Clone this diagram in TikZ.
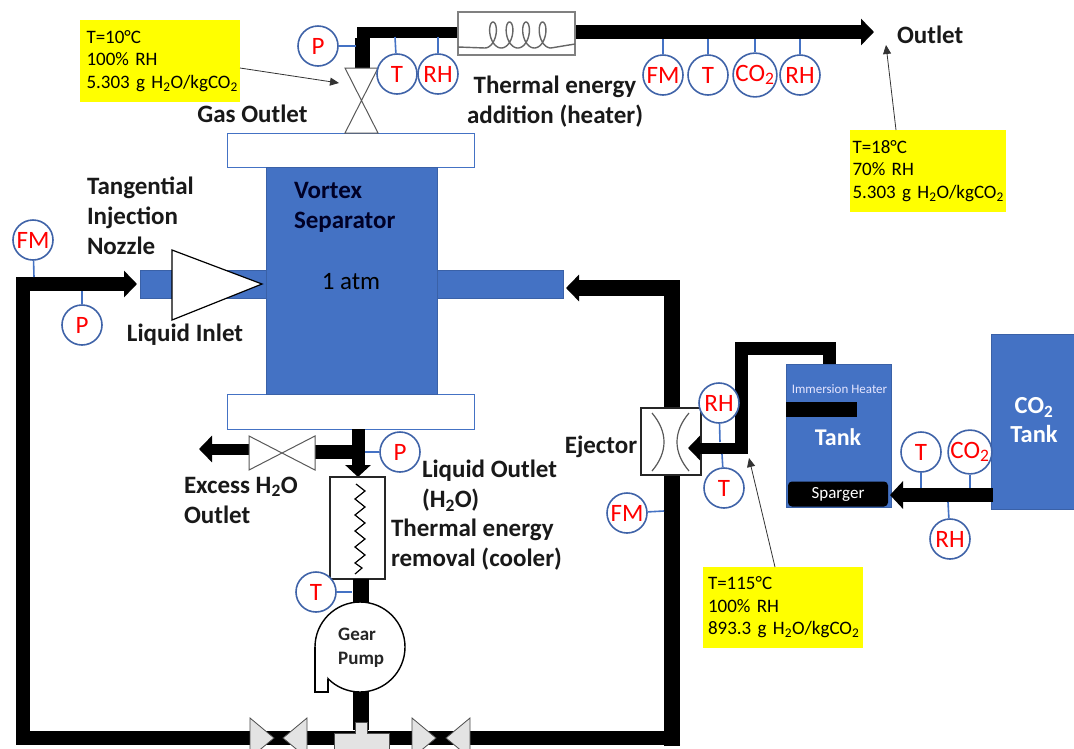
\documentclass[tikz,border=0pt]{standalone}
\usepackage{fontspec}
\setmainfont{Carlito}
\usetikzlibrary{arrows.meta}
\definecolor{pblue}{HTML}{4472C4}
\definecolor{ringblue}{HTML}{3F63A8}
\definecolor{noteyellow}{HTML}{FFFF00}
\definecolor{valvegray}{HTML}{E3E3E3}
\newcommand{\sub}[1]{\textsubscript{#1}}
\tikzset{
  x=1pt,y=-1pt,
  pipe/.style={line width=#1,draw=black,line join=miter},
  pipe/.default=14pt,
  harrow/.style={-{Triangle[length=13pt,width=26pt]}},
  vessel/.style={fill=pblue,draw=pblue!85!black,line width=.8pt,inner sep=0pt,outer sep=0pt},
  flange/.style={fill=white,draw=pblue,line width=1pt,inner sep=0pt,outer sep=0pt},
  wbox/.style={fill=white,draw=black!85,line width=1.2pt,inner sep=0pt,outer sep=0pt},
  gauge/.style={circle,draw=ringblue,fill=white,line width=1.6pt,minimum size=40pt,inner sep=0pt,text=red,font=\fontsize{25}{27}\selectfont},
  stub/.style={draw=pblue,line width=1.6pt},
  note/.style={fill=noteyellow,inner sep=0pt,outer sep=0pt,anchor=north west,text width=#1,align=left,font=\fontsize{19}{22.5}\selectfont},
  lbl/.style={inner sep=0pt,outer sep=0pt,font=\fontsize{25}{30}\bfseries\selectfont,text=black!90},
  valveline/.style={draw=black!65,line width=1pt,fill=white},
  gray part/.style={fill=valvegray,draw=black!70,line width=.8pt},
  thin arrow/.style={draw=black!80,line width=.8pt,-{Triangle[length=9pt,width=8pt]}}
}
\begin{document}
\begin{tikzpicture}
\useasboundingbox (0,0) rectangle (1074,748);
\clip (0,0) rectangle (1074,748);
\fill[white] (0,0) rectangle (1074,748);

% anchor coordinates for pipe runs
\coordinate (gasA) at (362,68);
\coordinate (gasB) at (362,32);
\coordinate (hL) at (458,32);
\coordinate (hR) at (575,32);
\coordinate (outEnd) at (874,32);
\coordinate (loopTR) at (672,288);
\coordinate (loopArrow) at (566,288);
\coordinate (loopBR) at (680,738);
\coordinate (loopBL) at (23,738);
\coordinate (loopTL) at (23,284);
\coordinate (loopArrow2) at (137,284);
\coordinate (tankTop) at (829,365);
\coordinate (tankC) at (829,348);
\coordinate (tankL) at (741,348);
\coordinate (tankD) at (741,448);
\coordinate (ejIn) at (688,448);

% vessels
\node[flange,minimum width=247pt,minimum height=34pt] (topfl) at (350.5,150) {};
\node[flange,minimum width=247pt,minimum height=35pt] (botfl) at (350.5,411.5) {};
\node[vessel,minimum width=126pt,minimum height=28pt] (stubL) at (203,284) {};
\node[vessel,minimum width=126pt,minimum height=28pt] (stubR) at (500,284) {};
\node[vessel,minimum width=171pt,minimum height=227pt] (vortex) at (351.5,280.5) {};
\node[lbl,anchor=west,align=left,text=black!85!blue] (vlabel) at (294,207) {Vortex\\Separator};
\node[inner sep=0pt,font=\fontsize{25}{28}\selectfont] (atm) at (351,282) {1 atm};

% nozzle
\draw[fill=white,draw=black,line width=1.2pt] (172,250) -- (172,320) -- (262,284) -- cycle;

% main loop
\draw[pipe=16pt,harrow] (672,746) -- (loopTR) -- (loopArrow);
\draw[pipe=14pt] (loopBR) -- (loopBL) -- (loopTL);
\draw[pipe=14pt,harrow,shorten <=-7pt] (loopTL) -- (loopArrow2);

% gas outlet pipes
\draw[pipe=11pt] (hL) -- (gasB) -| (gasA);
\draw[line width=15pt,draw=black] (362,68) -- (362,38);
\draw[pipe=14pt,harrow] (hR) -- (outEnd);

% heater
\node[wbox,draw=black!50,minimum width=117pt,minimum height=43pt] (heater) at (516.5,33.5) {};
\draw[black!60,line width=1.4pt] (458,47) -- (485,48)
  plot[domain=-180:1260,samples=150,smooth] ({493+2.63*rad(\x)-7*sin(\x)},{35-13*cos(\x)})
  -- (575,44);

% top valve
\draw[valveline] (345,68) -- (378,68) -- (345,133) -- (378,133) -- cycle;

% liquid outlet
\draw[pipe=13pt] (358,429) -- (358,452);
\draw[pipe=14pt] (358,452) -- (315,452);
\draw[pipe=11pt,harrow] (249,449) -- (199,449);
\draw[pipe=13pt,-{Triangle[length=12pt,width=25pt]}] (358,440) -- (358,477);
\draw[valveline] (249,436) -- (315,470) -- (315,436) -- (249,470) -- cycle;

% cooler
\node[wbox,minimum width=55pt,minimum height=102pt] (cooler) at (357.5,528) {};
\draw[black,line width=1.2pt] (356,484) -- (365,491) -- (355,499) -- (365,507) -- (355,515) -- (365,523) -- (355,531) -- (365,539) -- (355,547) -- (365,555) -- (355,563) -- (362,568) -- (355,574);

% pump
\draw[pipe=16pt] (361,579) -- (361,606);
\draw[pipe=16pt] (361,688) -- (361,730);
\node[circle,fill=white,draw=black,line width=1.4pt,minimum size=90pt,inner sep=0pt] (pump) at (360,647) {};
\fill[white] (315.7,647) -- (315.7,691.3) -- (327.3,691.3) -- (327.3,660) -- cycle;
\draw[black,line width=1.4pt] (315,647) -- (315,692) -- (328,692) -- (328,678.5);
\node[inner sep=0pt,anchor=west,align=left,font=\fontsize{19}{23.5}\bfseries\selectfont,text=black!85] (pumplabel) at (338,648) {Gear\\Pump};

% tee and bottom valves
\fill[gray part] (334,760) -- (334,733) -- (355,733) -- (355,722) -- (367,722) -- (367,733) -- (389,733) -- (389,760) -- cycle;
\fill[gray part] (250,718) -- (274,738) -- (250,758) -- cycle;
\fill[gray part] (307,718) -- (283,738) -- (307,758) -- cycle;
\fill[gray part] (412,718) -- (436,738) -- (412,758) -- cycle;
\fill[gray part] (470,718) -- (446,738) -- (470,758) -- cycle;

% ejector and tank line
\draw[pipe=13pt] (tankTop) -- (tankC) -- (tankL) -- (tankD);
\node[wbox,minimum width=60pt,minimum height=67pt] (ejector) at (671,441.5) {};
\draw[black!65,line width=1.2pt] (652,413) .. controls (668,432) and (668,452) .. (652,471);
\draw[black!65,line width=1.2pt] (689,413) .. controls (673,432) and (673,452) .. (689,471);
\draw[pipe=11pt,-{Triangle[length=12pt,width=24pt]}] (747.5,448) -- (ejIn);

% tanks
\node[vessel,minimum width=105pt,minimum height=143pt] (tank) at (838.5,435.5) {};
\fill[black] (786,402) rectangle (857,417);
\node[fill=black,rounded corners=4pt,minimum width=100pt,minimum height=25pt,inner sep=0pt,text=white,font=\fontsize{17}{19}\selectfont] (sparger) at (838,494) {Sparger};
\node[inner sep=0pt,text=white!90!blue,font=\fontsize{13}{15}\selectfont] (immersion) at (839.5,389) {Immersion Heater};
\node[inner sep=0pt,text=white,font=\fontsize{24}{27}\bfseries\selectfont] (tanklabel) at (838,437) {Tank};
\node[vessel,minimum width=84pt,minimum height=175pt] (cotank) at (1033,421.5) {};
\node[inner sep=0pt,align=center,text=white,font=\fontsize{24.5}{29}\bfseries\selectfont] (cotanklabel) at (1034,420) {CO\sub{2}\\Tank};
\draw[pipe=14pt,-{Triangle[length=13pt,width=27pt]}] (993,495) -- (890,495);

% gauges
\node[gauge] (gP) at (318,46) {P};
\node[gauge] (gT) at (397,74) {T};
\node[gauge] (gRH) at (438,74) {RH};
\node[gauge] (gFM2) at (663,75) {FM};
\node[gauge] (gT2) at (708,75) {T};
\node[gauge] (gCO) at (755,75) {CO\sub{2}};
\node[gauge] (gRH2) at (800,75) {RH};
\node[gauge] (gFM) at (33,240) {FM};
\node[gauge] (gPl) at (82,325) {P};
\node[gauge] (gPo) at (400,452) {P};
\node[gauge] (gTp) at (316,592) {T};
\node[gauge] (gRHe) at (719,403) {RH};
\node[gauge] (gTe) at (724,488) {T};
\node[gauge] (gFMe) at (627,513) {FM};
\node[gauge] (gTt) at (921,452) {T};
\node[gauge] (gCOt) at (970,452) {CO\sub{2}};
\node[gauge] (gRHt) at (950,539) {RH};

% gauge stubs
\draw[stub] (gP) -- (356,46);
\draw[stub] (gT) -- (395,37);
\draw[stub] (gRH) -- (438,37);
\draw[stub] (gFM2) -- (663,39);
\draw[stub] (gT2) -- (708,39);
\draw[stub] (gCO) -- (755,39);
\draw[stub] (gRH2) -- (800,39);
\draw[stub] (gFM) -- (34,277);
\draw[stub] (gPl) -- (82,291);
\draw[stub] (gPo) -- (365,452);
\draw[stub] (gTp) -- (352,592);
\draw[stub] (gRHe) -- (720,442);
\draw[stub] (gTe) -- (722,454);
\draw[stub] (gFMe) -- (664,511);
\draw[stub] (gTt) -- (921,488);
\draw[stub] (gCOt) -- (970,488);
\draw[stub] (gRHt) -- (948,502);

% notes
\node[note=156pt,minimum width=160pt,minimum height=82pt] (n1) at (80,20) {\hspace*{4.5pt}T=10°C\\\hspace*{4.5pt}100\% RH\\\hspace*{4.5pt}5.303 g H\sub{2}O/kgCO\sub{2}};
\node[note=156pt,minimum width=156pt,minimum height=82pt] (n2) at (850,130) {\hspace*{2.5pt}T=18°C\\\hspace*{2.5pt}70\% RH\\\hspace*{2.5pt}5.303 g H\sub{2}O/kgCO\sub{2}};
\node[note=160pt,minimum width=160pt,minimum height=81pt] (n3) at (703,567) {\hspace*{5pt}T=115°C\\\hspace*{5pt}100\% RH\\\hspace*{5pt}893.3 g H\sub{2}O/kgCO\sub{2}};
\coordinate (tipA) at (339,83);
\coordinate (tipB) at (886,45);
\coordinate (tipC) at (749,458);
\draw[thin arrow] (n1.east |- 0,68) -- (tipA);
\draw[thin arrow] (896,130) -- (tipB);
\draw[thin arrow] (775,567) -- (tipC);

% labels
\node[lbl] (l1) at (252.5,114) {Gas Outlet};
\node[lbl,align=center] (l2) at (555,102) {Thermal energy\\addition (heater)};
\node[lbl,anchor=west] (l3) at (897,35) {Outlet};
\node[lbl,anchor=west,align=left] (l4) at (87,216) {Tangential\\Injection\\Nozzle};
\node[lbl] (l5) at (185,335) {Liquid Inlet};
\node[lbl,anchor=west,align=left] (l6) at (184,500) {Excess H\sub{2}O\\Outlet};
\node[lbl,anchor=west,align=left] (l7) at (422,486) {Liquid Outlet\\(H\sub{2}O)};
\node[lbl,anchor=west,align=left] (l8) at (391,545) {Thermal energy\\removal (cooler)};
\node[lbl] (l9) at (601,447) {Ejector};
\end{tikzpicture}
\end{document}
